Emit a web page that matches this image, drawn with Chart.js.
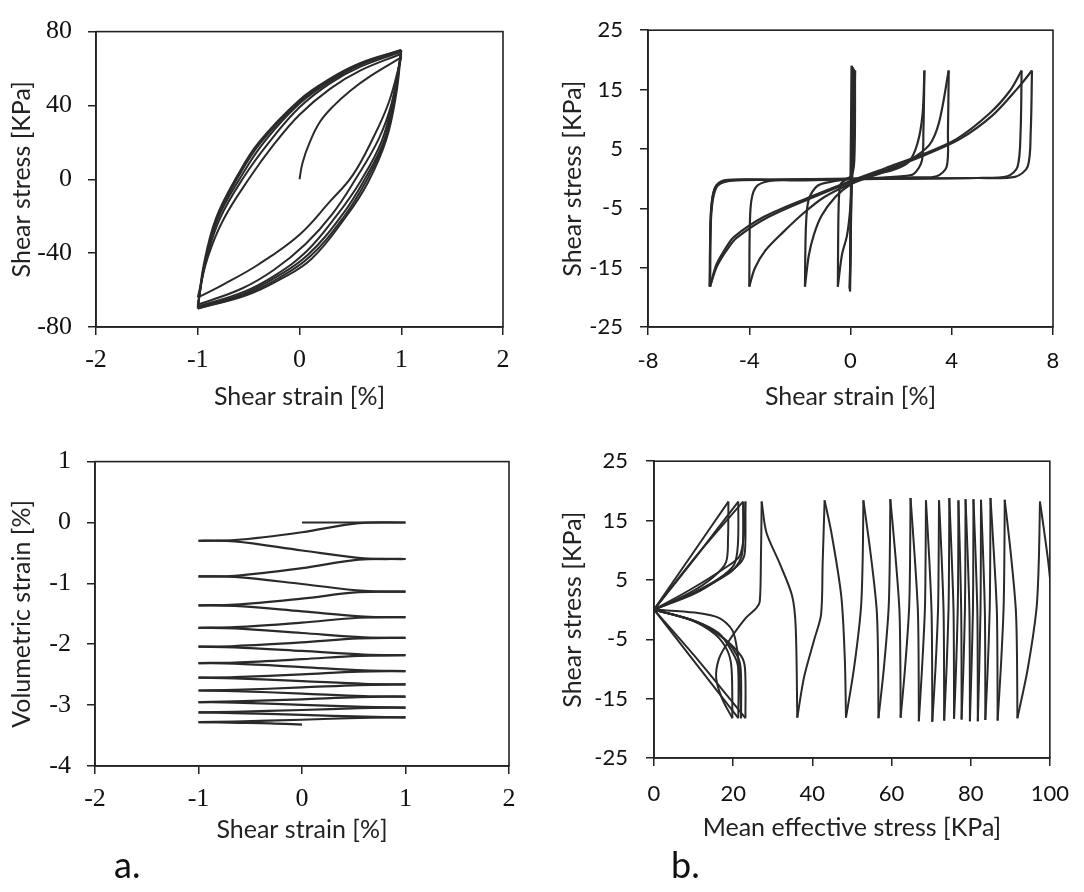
<!DOCTYPE html>
<html><head><meta charset="utf-8">
<script src="https://cdn.jsdelivr.net/npm/chart.js@4.4.1/dist/chart.umd.min.js"></script>
<style>
body{margin:0;background:#fff;width:1084px;height:892px;position:relative;overflow:hidden}
canvas{position:absolute}
.lab{position:absolute;font-family:Lato,'Noto Sans',sans-serif;font-size:36px;line-height:36px;color:#111}
</style></head><body>
<canvas id="c1" width="540" height="420" style="left:0;top:0"></canvas>
<canvas id="c2" width="544" height="420" style="left:540px;top:0"></canvas>
<canvas id="c3" width="540" height="430" style="left:0;top:430px"></canvas>
<canvas id="c4" width="544" height="430" style="left:540px;top:430px"></canvas>
<div class="lab" style="left:114px;top:846px">a.</div>
<div class="lab" style="left:671px;top:846px">b.</div>
<script>
// ---------- tick labels ----------
const p1XTicks = [-2, -1, 0, 1, 2];
const p1YTicks = [-80, -40, 0, 40, 80];
const p2XTicks = [-8, -4, 0, 4, 8];
const p2YTicks = [-25, -15, -5, 5, 15, 25];
const p3XTicks = [-2, -1, 0, 1, 2];
const p3YTicks = [-4, -3, -2, -1, 0, 1];
const p4XTicks = [0, 20, 40, 60, 80, 100];
const p4YTicks = [-25, -15, -5, 5, 15, 25];

// ---------- panel 1 : shear stress vs shear strain (branches [strain %, stress kPa]) ----------
const p1Initial = [[0,0],[0.03,9],[0.1,20],[0.2,31],[0.33,39.5],[0.5,48],[0.7,56],[1,66]];
const p1Down1 = [[1,66],[0.88,42],[0.72,22],[0.52,2],[0.3,-12],[0,-30],[-0.4,-46],[-0.75,-57],[-1,-64]];
const p1Up1   = [[-1,-64],[-0.9,-42],[-0.75,-22],[-0.5,0],[-0.25,19],[0,35],[0.3,49],[0.6,59],[1,68]];
const p1Down2 = [[1,68],[0.91,42],[0.78,22],[0.55,0],[0.32,-19],[0.06,-35],[-0.25,-49],[-0.56,-59],[-1,-68]];
const p1Up2   = [[-1,-68],[-0.92,-44],[-0.78,-21],[-0.55,1],[-0.3,20],[0,39],[0.3,52],[0.6,61],[1,69]];
const p1Down3 = [[1,69],[0.92,44],[0.81,21],[0.6,-1],[0.36,-20],[0.07,-39],[-0.24,-52],[-0.55,-61],[-1,-69]];
const p1Up3   = [[-1,-69],[-0.93,-45],[-0.8,-21],[-0.58,1],[-0.35,20],[0,41],[0.3,53],[0.6,62],[1,69.5]];
const p1Down4 = [[1,69.5],[0.93,45],[0.83,21],[0.63,-1],[0.41,-20],[0.08,-41],[-0.23,-53],[-0.55,-62],[-1,-69.5]];
const p1Up4   = [[-1,-69.5],[-0.93,-45.5],[-0.81,-21],[-0.6,1.5],[-0.38,20],[0,42],[0.3,54],[0.6,62.5],[1,70]];
const p1Down5 = [[1,70],[0.94,45.5],[0.84,21],[0.65,-1.5],[0.44,-20],[0.1,-42],[-0.22,-54],[-0.54,-62.5],[-1,-70]];
const p1Up5   = [[-1,-70],[-0.94,-46],[-0.82,-21],[-0.61,2],[-0.4,20],[0,43],[0.3,54.5],[0.6,63],[1,70]];
const p1Down6 = [[1,70],[0.95,46],[0.85,21],[0.67,-2],[0.46,-20],[0.12,-43],[-0.2,-54.5],[-0.53,-63],[-1,-70]];
const p1Branches = [p1Initial,p1Down1,p1Up1,p1Down2,p1Up2,p1Down3,p1Up3,p1Down4,p1Up4,p1Down5,p1Up5,p1Down6];

// ---------- panel 2 : shear stress vs shear strain, liquefaction ----------
const p2Small = [
  [[0,0],[0.02,9],[0.05,19]],
  [[0.05,19],[0.03,0],[-0.02,-19]],
  [[-0.02,-19],[0.02,0],[0.08,18.8]],
  [[0.08,18.8],[0.05,0],[-0.03,-18.5]],
  [[-0.03,-18.5],[0.04,0],[0.12,18.5]]
];
const p2Cycle1 = [
  [[0.12,18.5],[0.1,4],[0.02,0.4],[-0.2,-0.2],[-0.4,-1],[-0.47,-5],[-0.5,-18.2]],
  [[-0.5,-18.2],[-0.34,-12.9],[-0.14,-9.6],[-0.03,-6],[0.05,-1],[0.12,4],[0.16,12],[0.18,18.2]]
];
const p2Cycle2 = [
  [[0.18,18.2],[0.15,3],[0,0.3],[-0.6,-0.4],[-1.3,-1.2],[-1.65,-3.5],[-1.76,-8],[-1.8,-18.2]],
  [[-1.8,-18.2],[-1.65,-13],[-1.45,-9.5],[-1.15,-6.3],[-0.6,-3.1],[0,-1],[0.8,0.5],[1.7,1.5],[2.3,2.8],[2.65,6],[2.85,11],[2.92,18.2]]
];
const p2Cycle3 = [
  [[2.92,18.2],[2.88,8],[2.82,3],[2.5,0.8],[2,0.4],[0,-0.1],[-2,-0.3],[-3.2,-0.4],[-3.75,-1.5],[-3.95,-5],[-4,-18.2]],
  [[-4,-18.2],[-3.78,-15.1],[-3.36,-12.1],[-2.68,-9.1],[-1.85,-5.8],[-1.03,-3.1],[0,-0.9],[1.44,1.3],[2.26,2.9],[3.1,5.6],[3.5,9.5],[3.88,18.2]]
];
const p2Cycle4 = [
  [[3.88,18.2],[3.85,8],[3.8,2],[3.4,0.4],[2.5,0.2],[0,0],[-3,-0.2],[-4.8,-0.3],[-5.3,-1.5],[-5.5,-6],[-5.55,-18.2]],
  [[-5.55,-18.2],[-5.3,-14.5],[-4.9,-11.5],[-4.6,-9.8],[-3.4,-6.4],[-1.6,-3.1],[0,-0.4],[1.4,1.8],[2.8,4],[4.2,6.7],[5.5,11],[6.3,14.8],[6.76,18.2]]
];
const p2Cycle5 = [
  [[6.76,18.2],[6.72,8],[6.6,2],[6.2,0.4],[5,0.1],[2,0],[0,-0.1],[-3,-0.2],[-5,-0.3],[-5.35,-1.5],[-5.52,-6],[-5.55,-18.2]],
  [[-5.55,-18.2],[-5.28,-14.8],[-4.85,-11.8],[-4.5,-10],[-3.3,-6.6],[-1.5,-3.2],[0,-0.6],[1.5,1.6],[2.9,3.9],[4.3,6.6],[5.6,10.6],[6.6,15.2],[7.17,18.2]],
  [[7.17,18.2],[7.12,8],[7.0,2],[6.5,0.3],[5,0.1],[0,-0.1],[-4.5,-0.3],[-5.3,-1.2],[-5.5,-5],[-5.57,-18.2]]
];
const p2Branches = [...p2Small, ...p2Cycle1, ...p2Cycle2, ...p2Cycle3, ...p2Cycle4, ...p2Cycle5];

// ---------- panel 3 : volumetric strain vs shear strain ----------
const p3Initial = [[0,0],[1,0]];
const p3Half = [
  [[1,0],[0.55,-0.01],[0,-0.16],[-0.65,-0.29],[-1,-0.30]],
  [[-1,-0.30],[-0.65,-0.31],[0,-0.46],[0.6,-0.59],[1,-0.60]],
  [[1,-0.60],[0.55,-0.61],[0,-0.75],[-0.65,-0.875],[-1,-0.885]],
  [[-1,-0.885],[-0.65,-0.895],[0,-1.01],[0.6,-1.125],[1,-1.135]],
  [[1,-1.135],[0.55,-1.145],[0,-1.25],[-0.65,-1.35],[-1,-1.36]],
  [[-1,-1.36],[-0.65,-1.37],[0,-1.46],[0.6,-1.545],[1,-1.555]],
  [[1,-1.555],[0.55,-1.565],[0,-1.645],[-0.65,-1.72],[-1,-1.73]],
  [[-1,-1.73],[-0.65,-1.74],[0,-1.815],[0.6,-1.885],[1,-1.895]],
  [[1,-1.895],[0.55,-1.905],[0,-1.97],[-0.65,-2.03],[-1,-2.04]],
  [[-1,-2.04],[-0.65,-2.05],[0,-2.11],[0.6,-2.17],[1,-2.18]],
  [[1,-2.18],[0.55,-2.19],[0,-2.245],[-0.65,-2.30],[-1,-2.31]],
  [[-1,-2.31],[-0.65,-2.32],[0,-2.375],[0.6,-2.43],[1,-2.44]],
  [[1,-2.44],[0.55,-2.45],[0,-2.495],[-0.65,-2.54],[-1,-2.55]],
  [[-1,-2.55],[-0.65,-2.56],[0,-2.605],[0.6,-2.65],[1,-2.66]],
  [[1,-2.66],[0.55,-2.67],[0,-2.71],[-0.65,-2.75],[-1,-2.76]],
  [[-1,-2.76],[-0.65,-2.77],[0,-2.81],[0.6,-2.85],[1,-2.86]],
  [[1,-2.86],[0.55,-2.87],[0,-2.905],[-0.65,-2.94],[-1,-2.95]],
  [[-1,-2.95],[-0.65,-2.96],[0,-2.995],[0.6,-3.03],[1,-3.04]],
  [[1,-3.04],[0.55,-3.05],[0,-3.08],[-0.65,-3.11],[-1,-3.12]],
  [[-1,-3.12],[-0.65,-3.13],[0,-3.16],[0.6,-3.19],[1,-3.20]],
  [[1,-3.20],[0.55,-3.21],[0,-3.24],[-0.65,-3.27],[-1,-3.28]],
  [[-1,-3.28],[-0.6,-3.29],[-0.3,-3.30],[0,-3.32]]
];
const p3Branches = [p3Initial, ...p3Half];

// ---------- panel 4 : shear stress vs mean effective stress ----------
const p4Start = [[100.8,0],[99.6,8],[98.5,13.5],[97.5,18.2]];
const p4Saw = [
  [[97.5,18.2],[97.2,8],[96.6,0],[94.4,-10],[91.8,-18.3]],
  [[91.8,-18.3],[91.7,-8],[91.4,0],[90.2,9],[88.6,18.5]],
  [[88.6,18.5],[88.5,8],[88.3,0],[87.6,-10],[86.8,-18.7]],
  [[86.8,-18.7],[86.75,-8],[86.6,0],[85.9,9],[85.0,18.8]],
  [[85.0,18.8],[84.93,8],[84.8,0],[84.3,-10],[83.7,-18.6]],
  [[83.7,-18.6],[83.67,-8],[83.57,0],[83.15,9],[82.6,18.5]],
  [[82.6,18.5],[82.56,8],[82.48,0],[82.16,-10],[81.8,-18.8]],
  [[81.8,-18.8],[81.77,-8],[81.67,0],[81.25,9],[80.7,18.6]],
  [[80.7,18.6],[80.65,8],[80.57,0],[80.2,-10],[79.8,-18.8]],
  [[79.8,-18.8],[79.77,-8],[79.67,0],[79.25,9],[78.7,18.6]],
  [[78.7,18.6],[78.65,8],[78.55,0],[78.15,-10],[77.7,-18.5]],
  [[77.7,-18.5],[77.68,-8],[77.6,0],[77.3,9],[76.9,18.4]],
  [[76.9,18.4],[76.85,8],[76.73,0],[76.3,-10],[75.8,-18.4]],
  [[75.8,-18.4],[75.76,-8],[75.66,0],[75.2,9],[74.6,18.8]],
  [[74.6,18.8],[74.53,8],[74.4,0],[73.9,-10],[73.3,-18.7]],
  [[73.3,-18.7],[73.26,-8],[73.14,0],[72.65,9],[72.0,18.4]],
  [[72.0,18.4],[71.9,8],[71.75,0],[71.1,-10],[70.3,-18.9]],
  [[70.3,-18.9],[70.25,-8],[70.1,0],[69.5,9],[68.7,18.4]],
  [[68.7,18.4],[68.6,8],[68.43,0],[67.7,-10],[66.9,-18.8]],
  [[66.9,-18.8],[66.84,-8],[66.65,0],[65.85,9],[64.8,18.8]],
  [[64.8,18.8],[64.68,8],[64.43,0],[63.4,-10],[62.3,-18.2]],
  [[62.3,-18.2],[62.22,-8],[61.99,0],[61.0,9],[59.7,18.6]],
  [[59.7,18.6],[59.55,8],[59.25,0],[58.05,-10],[56.7,-18.3]],
  [[56.7,-18.3],[56.6,-8],[56.25,0],[54.8,9],[52.9,18.4]],
  [[52.9,18.4],[52.7,8],[52.25,0],[50.5,-10],[48.5,-18.2]],
  [[48.5,-18.2],[48.2,-8.3],[47.3,2.3],[44.8,13],[43.1,18.4]],
  [[43.1,18.4],[42.6,7.7],[42.2,-0.85],[40.5,-5],[37.9,-11.4],[36.2,-18.2]],
  [[36.2,-18.2],[35.8,-3],[34.9,2.3],[31.8,7.7],[28.4,13],[27.2,18.2]]
];
const p4Liquefied = [
  [[27.2,18.2],[27.0,8],[26.7,1.3],[25.8,0.2],[23.2,-1.4],[18.5,-5.7],[16.4,-8.3],[15.7,-11.5],[17.2,-15],[19.8,-18.3]],
  [[19.8,-18.3],[19.6,-10],[18.6,-7],[15.5,-4.2],[9.5,-1.8],[0,0]],
  [[0,0],[9.5,9.2],[18.8,18.2]],
  [[18.8,18.2],[18.7,12],[18.2,8],[15,5.5],[9,2.8],[0,0]],
  [[0,0],[10.5,-9],[21.3,-18.3]],
  [[21.3,-18.3],[21.2,-9.5],[19.8,-7.2],[16.4,-4],[10.3,-1.9],[0,0]],
  [[0,0],[10.6,8.9],[21.3,18.2]],
  [[21.3,18.2],[21.2,11],[20.2,7.5],[16,5],[10,2.6],[0,0]],
  [[0,0],[10.3,-0.5],[16.4,-1.4],[19.8,-3.5],[21.1,-7.2],[21.6,-11.5],[22.0,-18.3]],
  [[22.0,-18.3],[21.9,-10],[20.8,-7.5],[17,-4.5],[10.5,-2],[0,0]],
  [[0,0],[11,9.3],[22.5,18.2]],
  [[22.5,18.2],[22.4,10],[21.5,8],[18.9,6.1],[10.3,2.9],[0,0]],
  [[0,0],[11.5,-8.8],[23.1,-18.3]],
  [[23.1,-18.3],[23.0,-10],[22,-7.8],[17.5,-4.8],[11,-2.1],[0,0]],
  [[0,0],[9,3.3],[18.1,7.1],[21.6,9],[22.7,12.5],[23.1,18.2]],
  [[23.1,18.2],[23.0,10],[22.2,8.2],[19,6.3],[10.5,3],[0,0]]
];
const p4Branches = [p4Start, ...p4Saw, ...p4Liquefied];

// ---------- styling / construction ----------
const SERIF = "'Liberation Serif','Times New Roman',serif";
const SANS = "Lato,'Noto Sans',sans-serif";
const INK = '#2a2a2a';

const framePlugin = {
  id: 'frame',
  afterDatasetsDraw(chart) {
    const {ctx, chartArea: a} = chart;
    ctx.save();
    ctx.strokeStyle = '#222';
    ctx.lineWidth = 1.6;
    ctx.strokeRect(a.left, a.top, a.right - a.left, a.bottom - a.top);
    ctx.restore();
  }
};

function axis(o) {
  return {
    type: 'linear', min: o.min, max: o.max,
    afterBuildTicks: s => { s.ticks = o.ticks.map(v => ({value: v})); },
    afterFit: s => { if (s.isHorizontal()) s.height = o.size; else s.width = o.size; },
    grid: {drawOnChartArea: false, drawTicks: true, tickLength: 8, color: '#222', lineWidth: 1.5},
    border: {display: true, color: '#222', width: 1.6},
    ticks: {font: {family: o.tickFont, size: o.tickSize}, color: '#111', padding: o.tickPad,
            autoSkip: false, maxRotation: 0, callback: v => String(v)},
    title: {display: true, text: o.title, color: '#222', font: {family: SANS, size: 25},
            padding: o.titlePad}
  };
}

function makeChart(id, branches, tension, width, pad, xOpt, yOpt) {
  new Chart(document.getElementById(id), {
    type: 'scatter',
    data: {
      datasets: branches.map(b => ({
        data: b.map(p => ({x: p[0], y: p[1]})),
        showLine: true, borderColor: INK, borderWidth: width,
        pointRadius: 0, pointHoverRadius: 0, tension: tension, fill: false
      }))
    },
    options: {
      responsive: false, animation: false, events: [],
      layout: {padding: pad},
      plugins: {legend: {display: false}, tooltip: {enabled: false}},
      scales: {x: axis(xOpt), y: axis(yOpt)}
    },
    plugins: [framePlugin]
  });
}

makeChart('c1', p1Branches, 0.4, 2,
  {left: 0, top: 18, right: 37, bottom: 0},
  {min: -2, max: 2, ticks: p1XTicks, size: 93, tickFont: SERIF, tickSize: 26, tickPad: 10,
   title: 'Shear strain [%]', titlePad: {top: 0, bottom: 8}},
  {min: -80, max: 80, ticks: p1YTicks, size: 96, tickFont: SERIF, tickSize: 26, tickPad: 16,
   title: 'Shear stress [KPa]', titlePad: {top: 7, bottom: 0}});

makeChart('c2', p2Branches, 0.3, 2.2,
  {left: 0, top: 22, right: 31, bottom: 0},
  {min: -8, max: 8, ticks: p2XTicks, size: 93, tickFont: SANS, tickSize: 22, tickPad: 13,
   title: 'Shear strain [%]', titlePad: {top: 0, bottom: 8}},
  {min: -25, max: 25, ticks: p2YTicks, size: 108, tickFont: SANS, tickSize: 22, tickPad: 17,
   title: 'Shear stress [KPa]', titlePad: {top: 18, bottom: 0}});

makeChart('c3', p3Branches, 0.35, 2.2,
  {left: 0, top: 17, right: 31, bottom: 0},
  {min: -2, max: 2, ticks: p3XTicks, size: 94, tickFont: SERIF, tickSize: 26, tickPad: 10,
   title: 'Shear strain [%]', titlePad: {top: 0, bottom: 15}},
  {min: -4, max: 1, ticks: p3YTicks, size: 95, tickFont: SERIF, tickSize: 26, tickPad: 16,
   title: 'Volumetric strain [%]', titlePad: {top: 7, bottom: 0}});

makeChart('c4', p4Branches, 0.3, 2,
  {left: 0, top: 15, right: 27, bottom: 0},
  {min: 0, max: 100, ticks: p4XTicks, size: 102, tickFont: SANS, tickSize: 22, tickPad: 15,
   title: 'Mean effective stress [KPa]', titlePad: {top: 0, bottom: 17}},
  {min: -25, max: 25, ticks: p4YTicks, size: 114, tickFont: SANS, tickSize: 22, tickPad: 18,
   title: 'Shear stress [KPa]', titlePad: {top: 18, bottom: 0}});
</script>
</body></html>
